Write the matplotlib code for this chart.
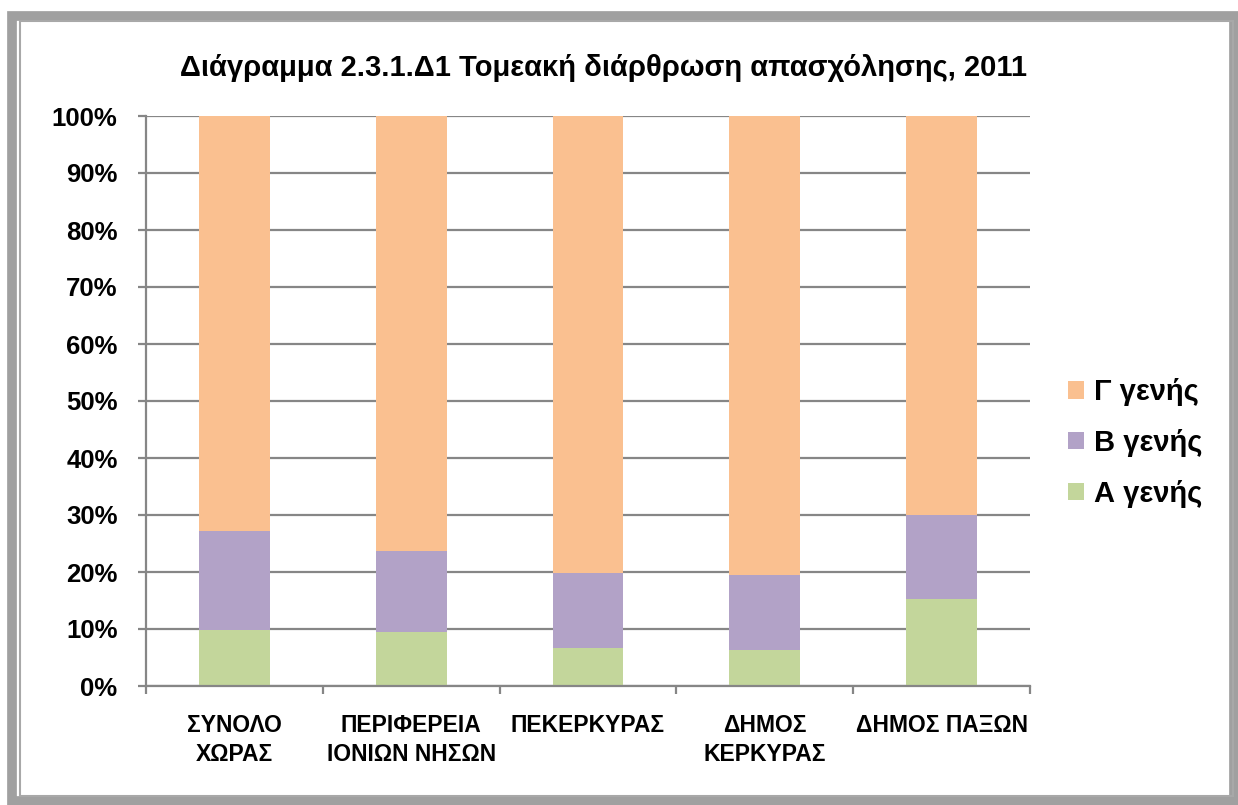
import matplotlib
matplotlib.use("Agg")
import matplotlib.pyplot as plt
from matplotlib.patches import Rectangle
import numpy as np

plt.rcParams['font.family'] = ['Liberation Sans', 'DejaVu Sans']

categories = ["ΣΥΝΟΛΟ\nΧΩΡΑΣ", "ΠΕΡΙΦΕΡΕΙΑ\nΙΟΝΙΩΝ ΝΗΣΩΝ", "ΠΕΚΕΡΚΥΡΑΣ", "ΔΗΜΟΣ\nΚΕΡΚΥΡΑΣ", "ΔΗΜΟΣ ΠΑΞΩΝ"]
a_gen = [9.8, 9.4, 6.7, 6.4, 15.3]
b_gen = [17.4, 14.2, 13.1, 13.1, 14.7]
c_gen = [72.8, 76.4, 80.2, 80.5, 70.0]
series_labels = ["Α γενής", "Β γενής", "Γ γενής"]
colors = ["#c3d69b", "#b2a2c7", "#fac090"]
title = "Διάγραμμα 2.3.1.Δ1 Τομεακή διάρθρωση απασχόλησης, 2011"

W, H = 1238, 805
fig = plt.figure(figsize=(W/100, H/100), dpi=100)

# frame
fig.patches.append(Rectangle((12/W, 4/H), (W-16)/W, (H-20)/H, transform=fig.transFigure,
                             fill=False, edgecolor="#a0a0a0", linewidth=7, zorder=0))
fig.patches.append(Rectangle((20/W, 9/H), (1233-20)/W, (784-9)/H, transform=fig.transFigure,
                             fill=False, edgecolor="#a8a8a8", linewidth=1.5, zorder=0))

ax = fig.add_axes([146/W, (H-686)/H, (1030-146)/W, (686-116)/H])
x = np.arange(len(categories))
bottom = np.zeros(len(categories))
handles = []
totals = np.array(a_gen) + np.array(b_gen) + np.array(c_gen)
for vals, lab, col in zip([a_gen, b_gen, c_gen], series_labels, colors):
    pct = np.array(vals) / totals * 100
    h = ax.bar(x, pct, 0.4, bottom=bottom, color=col, label=lab, zorder=2)
    handles.append(h)
    bottom += pct

ax.set_xlim(-0.5, len(categories) - 0.5)
ax.set_ylim(0, 100)
ax.set_yticks(np.arange(0, 101, 10))
ax.set_yticklabels([f"{v}%" for v in range(0, 101, 10)], fontsize=18.5, fontweight='bold')
ax.yaxis.grid(True, color="#868686", linewidth=1.6, zorder=0)
ax.set_axisbelow(True)
ax.set_xticks(x)
ax.set_xticklabels(categories, fontsize=16.5, fontweight='bold', linespacing=1.32)
ax.set_xticks(np.arange(-0.5, len(categories)), minor=True)
ax.tick_params(axis='x', which='major', length=0, pad=20)
ax.tick_params(axis='x', which='minor', length=6, width=1.6, color="#868686")
ax.tick_params(axis='y', length=6, width=1.6, color="#868686", pad=14.5)
for s in ['top', 'right']:
    ax.spines[s].set_visible(False)
for s in ['left', 'bottom']:
    ax.spines[s].set_color("#868686")
    ax.spines[s].set_linewidth(1.6)

fig.text(603/W, 1 - 68/H, title, ha='center', va='center', fontsize=21, fontweight='bold')

leg = fig.legend(handles[::-1], series_labels[::-1], loc='center left',
                 bbox_to_anchor=(1042/W, 1 - 443/H), frameon=False,
                 prop={'size': 21, 'weight': 'bold'},
                 handlelength=0.55, handleheight=0.55, handletextpad=0.35, labelspacing=0.78)

fig.savefig("out.png", dpi=100)
